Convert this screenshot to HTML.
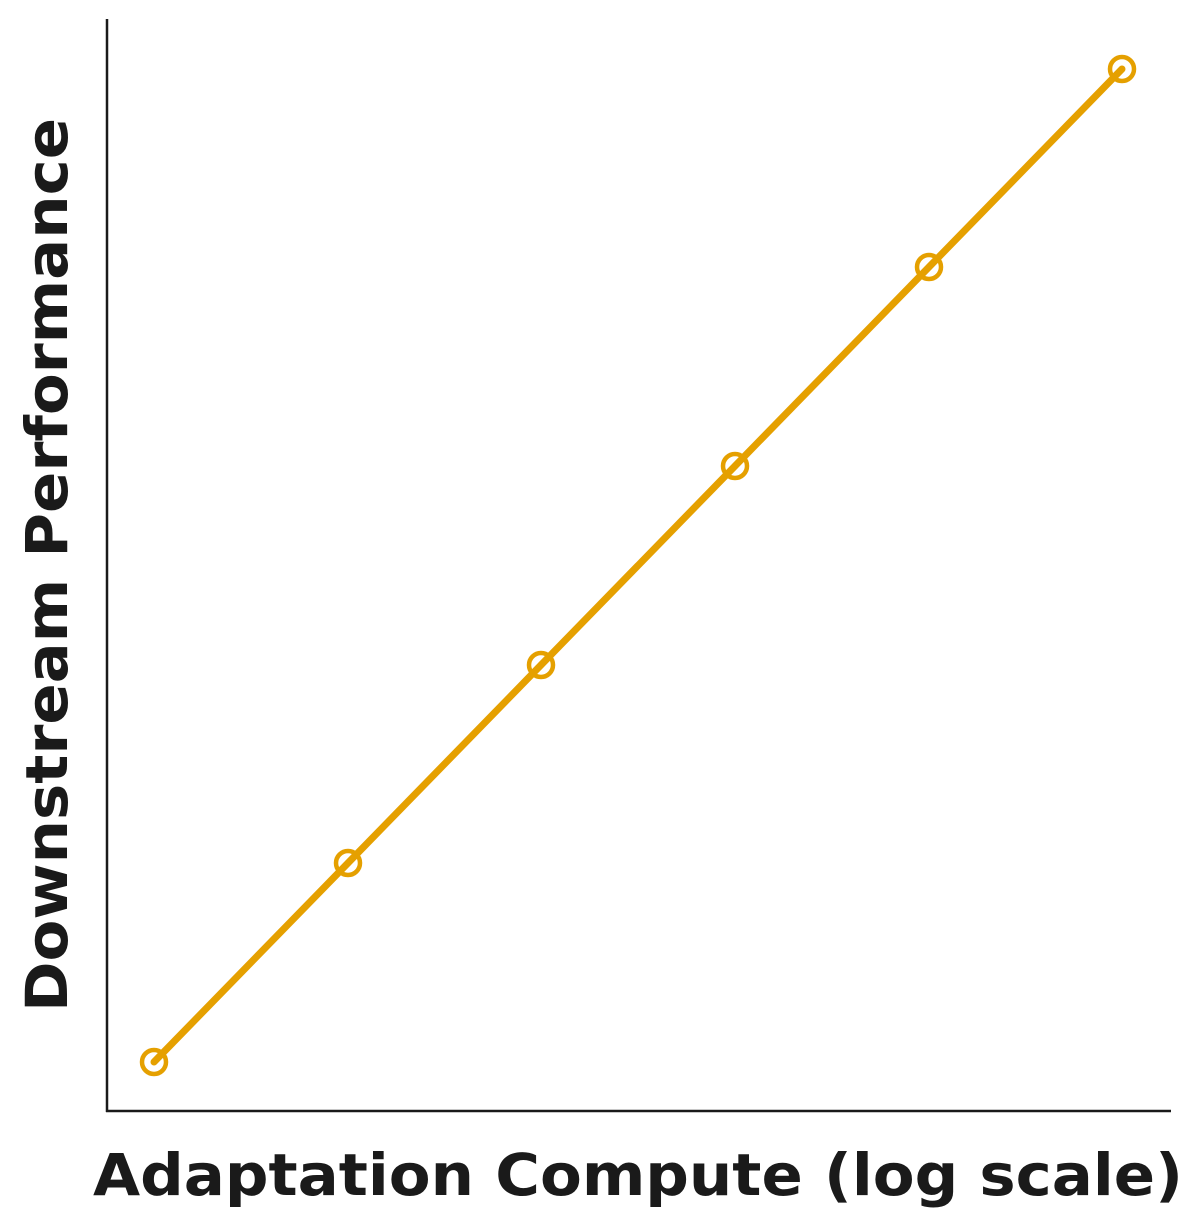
<!DOCTYPE html>
<html><head><meta charset="utf-8"><style>
html,body{margin:0;padding:0;background:#fff;}
svg{display:block;}
text{font-family:"DejaVu Sans","Liberation Sans",sans-serif;font-weight:bold;fill:#1a1a1a;}
</style></head><body>
<svg width="1190" height="1228" viewBox="0 0 1190 1228" xmlns="http://www.w3.org/2000/svg">
<line x1="107" y1="19" x2="107" y2="1112" stroke="#1a1a1a" stroke-width="2.5"/>
<line x1="106" y1="1111" x2="1171" y2="1111" stroke="#1a1a1a" stroke-width="2.5"/>
<polyline points="154,1062 348,863 541,665 735,466 929,267 1122,69" fill="none" stroke="#E5A000" stroke-width="7" stroke-linecap="round" stroke-linejoin="round"/>
<g fill="none" stroke="#E5A000" stroke-width="4.5">
<circle cx="154" cy="1062" r="12"/>
<circle cx="348" cy="863" r="12"/>
<circle cx="541" cy="665" r="12"/>
<circle cx="735" cy="466" r="12"/>
<circle cx="929" cy="267" r="12"/>
<circle cx="1122" cy="69" r="12"/>
</g>
<text x="93" y="1195" font-size="58" textLength="1090" lengthAdjust="spacingAndGlyphs">Adaptation Compute (log scale)</text>
<text transform="translate(67,1012) rotate(-90)" font-size="58" textLength="894" lengthAdjust="spacingAndGlyphs">Downstream Performance</text>
</svg>
</body></html>
